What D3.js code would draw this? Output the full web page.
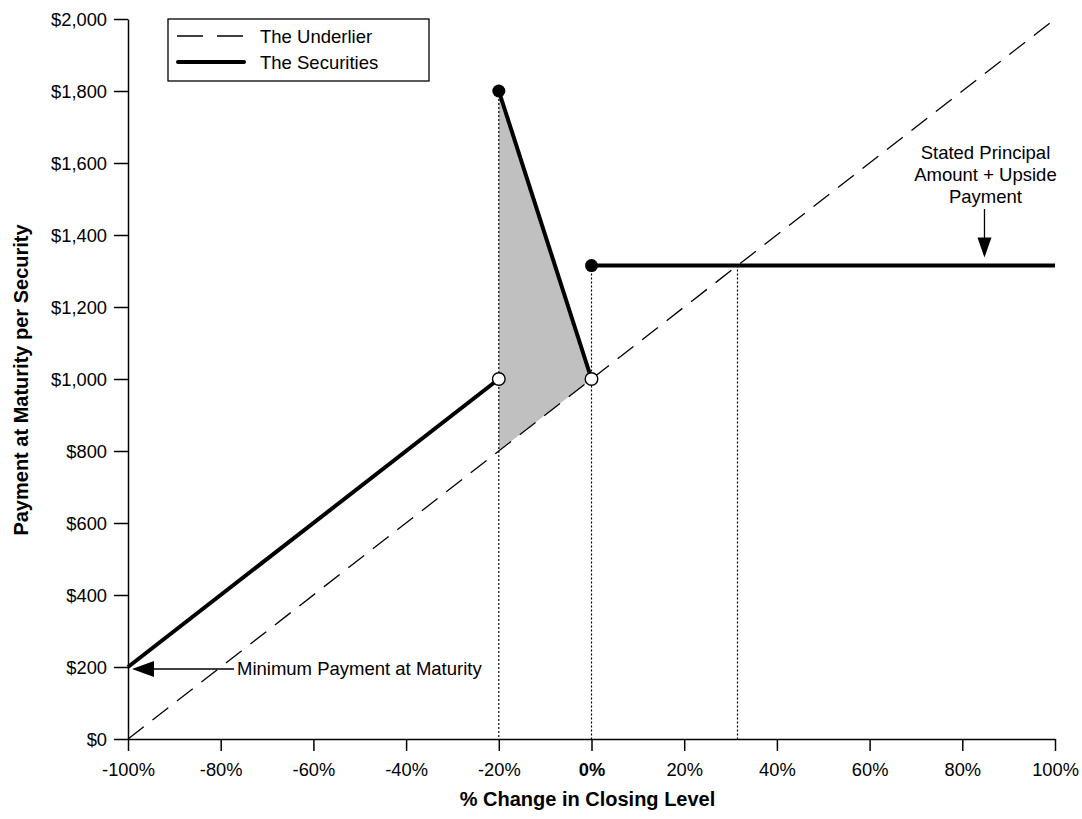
<!DOCTYPE html>
<html>
<head>
<meta charset="utf-8">
<script src="https://cdn.jsdelivr.net/npm/d3@7"></script>
<style>
  body { margin: 0; background: #fff; }
  svg { font-family: "Liberation Sans", Arial, sans-serif; }
</style>
</head>
<body>
<svg id="chart" width="1082" height="819"></svg>
<script>
// chart values
const xTicks = [-100, -80, -60, -40, -20, 0, 20, 40, 60, 80, 100];
const yTicks = [0, 200, 400, 600, 800, 1000, 1200, 1400, 1600, 1800, 2000];
const underlier = [[-100, 0], [100, 2000]];
const securitiesLow = [[-100, 200], [-20, 1000]];
const securitiesDrop = [[-20, 1800], [0, 1000]];
const securitiesCap = [[0, 1315], [100, 1315]];
const filledPoints = [[-20, 1800], [0, 1315]];
const openPoints = [[-20, 1000], [0, 1000]];
const shadedArea = [[-20, 1800], [0, 1000], [-20, 800]];
const dropLines = [[-20, 1800], [0, 1315], [31.5, 1315]];
const minPayment = [-100, 200];
const capPayment = [85, 1315];

const svg = d3.select('#chart');

const x = d3.scaleLinear().domain([-100, 100]).range([128, 1055]);
const y = d3.scaleLinear().domain([0, 2000]).range([739, 19]);

const line = d3.line().x(d => x(d[0])).y(d => y(d[1]));

// shaded region between the underlier and the securities
svg.append('path')
  .attr('d', line(shadedArea) + 'Z')
  .attr('fill', '#c0c0c0');

// underlier (dashed)
svg.append('path')
  .attr('d', line(underlier))
  .attr('fill', 'none')
  .attr('stroke', '#000')
  .attr('stroke-width', 1.3)
  .attr('stroke-dasharray', '20,11');

// dotted drop lines
dropLines.forEach(d => {
  svg.append('line')
    .attr('x1', x(d[0])).attr('x2', x(d[0]))
    .attr('y1', y(d[1])).attr('y2', y(0))
    .attr('stroke', '#000')
    .attr('stroke-width', 1.2)
    .attr('stroke-dasharray', '2,2');
});

// axes
const xAxis = svg.append('g')
  .attr('transform', `translate(0,${y(0)})`)
  .call(d3.axisBottom(x).tickValues(xTicks).tickSize(12).tickSizeOuter(0)
    .tickFormat(d => d + '%'));

const yAxis = svg.append('g')
  .attr('transform', `translate(${x(-100)},0)`)
  .call(d3.axisLeft(y).tickValues(yTicks).tickSize(14).tickSizeOuter(0)
    .tickFormat(d => '$' + d3.format(',')(d)));

[xAxis, yAxis].forEach(g => {
  g.select('.domain').attr('stroke-width', 1.5);
  g.selectAll('.tick line').attr('stroke-width', 1.5);
  g.selectAll('text').attr('font-size', 18.3).attr('font-family', '"Liberation Sans", Arial, sans-serif').attr('fill', '#000');
});
xAxis.selectAll('.tick text').attr('dy', null).attr('y', 37);
xAxis.selectAll('.tick text').filter(d => d === 0).attr('font-weight', 'bold');
yAxis.selectAll('.tick text').attr('x', -21).attr('dy', '0.35em');

// securities (thick)
[securitiesLow, securitiesDrop, securitiesCap].forEach(seg => {
  svg.append('path')
    .attr('d', line(seg))
    .attr('fill', 'none')
    .attr('stroke', '#000')
    .attr('stroke-width', 4);
});

svg.selectAll('.filled')
  .data(filledPoints)
  .join('circle')
  .attr('class', 'filled')
  .attr('cx', d => x(d[0]))
  .attr('cy', d => y(d[1]))
  .attr('r', 6.5)
  .attr('fill', '#000');

svg.selectAll('.open')
  .data(openPoints)
  .join('circle')
  .attr('class', 'open')
  .attr('cx', d => x(d[0]))
  .attr('cy', d => y(d[1]))
  .attr('r', 6.3)
  .attr('fill', '#fff')
  .attr('stroke', '#000')
  .attr('stroke-width', 1.4);

// axis titles
svg.append('text')
  .attr('x', x(0) - 4)
  .attr('y', 806)
  .attr('text-anchor', 'middle')
  .attr('font-size', 20)
  .attr('font-weight', 'bold')
  .text('% Change in Closing Level');

svg.append('text')
  .attr('transform', 'translate(28,380) rotate(-90)')
  .attr('text-anchor', 'middle')
  .attr('font-size', 20)
  .attr('font-weight', 'bold')
  .text('Payment at Maturity per Security');

// annotation: minimum payment
const minY = y(minPayment[1]) + 2;
svg.append('line')
  .attr('x1', x(minPayment[0]) + 20).attr('x2', 234)
  .attr('y1', minY).attr('y2', minY)
  .attr('stroke', '#000').attr('stroke-width', 1.3);
svg.append('path')
  .attr('d', `M${x(minPayment[0]) + 4},${minY} l22,-8 l0,16 Z`)
  .attr('fill', '#000');
svg.append('text')
  .attr('x', 237)
  .attr('y', 675)
  .attr('font-size', 18.5)
  .text('Minimum Payment at Maturity');

// annotation: stated principal + upside
const capX = x(capPayment[0]) - 1;
svg.append('text')
  .attr('x', capX + 1)
  .attr('y', 159)
  .attr('text-anchor', 'middle')
  .attr('font-size', 18.5)
  .selectAll('tspan')
  .data(['Stated Principal', 'Amount + Upside', 'Payment'])
  .join('tspan')
  .attr('x', capX + 1)
  .attr('dy', (d, i) => i === 0 ? 0 : 22)
  .text(d => d);
svg.append('line')
  .attr('x1', capX).attr('x2', capX)
  .attr('y1', 209).attr('y2', 240)
  .attr('stroke', '#000').attr('stroke-width', 1.3);
svg.append('path')
  .attr('d', `M${capX},${y(capPayment[1]) - 8} l-7,-20 l14,0 Z`)
  .attr('fill', '#000');

// legend
const legend = svg.append('g');
legend.append('rect')
  .attr('x', 168).attr('y', 19)
  .attr('width', 261).attr('height', 62)
  .attr('fill', '#fff')
  .attr('stroke', '#000')
  .attr('stroke-width', 1.3);
legend.append('line')
  .attr('x1', 177).attr('x2', 243).attr('y1', 36).attr('y2', 36)
  .attr('stroke', '#000').attr('stroke-width', 1.3)
  .attr('stroke-dasharray', '26,14');
legend.append('line')
  .attr('x1', 178).attr('x2', 244).attr('y1', 62).attr('y2', 62)
  .attr('stroke', '#000').attr('stroke-width', 4)
  .attr('stroke-linecap', 'round');
legend.append('text').attr('x', 260).attr('y', 43).attr('font-size', 18.5).text('The Underlier');
legend.append('text').attr('x', 260).attr('y', 69).attr('font-size', 18.5).text('The Securities');
</script>
</body>
</html>
